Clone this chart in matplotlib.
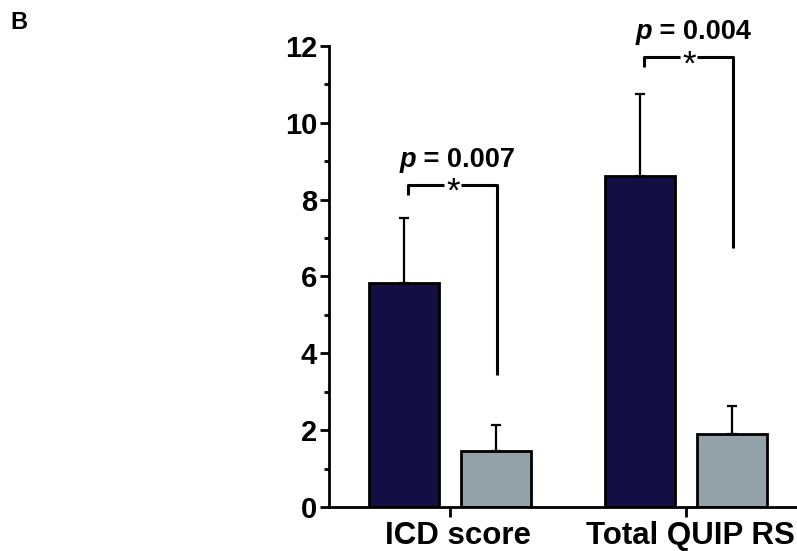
import matplotlib.pyplot as plt
import matplotlib.transforms as mtransforms
from matplotlib.offsetbox import TextArea, HPacker, AnnotationBbox
import numpy as np

plt.rcParams['font.family'] = ['Liberation Sans', 'DejaVu Sans']

categories = ['ICD score', 'Total QUIP RS']
group_a = [5.82, 8.62]      # dark bars
group_a_err = [1.71, 2.14]
group_b = [1.46, 1.90]      # grey bars
group_b_err = [0.68, 0.73]
p_labels = ['0.007', '0.004']
bracket_top = [8.39, 11.72]
bracket_left_end = [8.12, 11.46]
bracket_right_end = [3.44, 6.74]

dark = '#130f45'
grey = '#93a2a8'

fig = plt.figure(figsize=(7.97, 5.51), dpi=100)
ax = fig.add_axes([0.4128, 0.0799, 0.5872, 0.8366])

x = np.arange(len(categories))
w = 0.30
off = 0.195

ax.bar(x - off, group_a, w, color=dark, edgecolor='black', linewidth=2, zorder=2)
ax.bar(x + off, group_b, w, color=grey, edgecolor='black', linewidth=2, zorder=2)
ax.errorbar(x - off, group_a, yerr=[np.zeros(2), group_a_err], fmt='none',
            ecolor='black', elinewidth=1.6, capsize=3.3, capthick=1.6, zorder=3)
ax.errorbar(x + off, group_b, yerr=[np.zeros(2), group_b_err], fmt='none',
            ecolor='black', elinewidth=1.6, capsize=3.3, capthick=1.6, zorder=3)

gap = 0.036
for i in range(len(categories)):
    xl, xr = x[i] - off + 0.015, x[i] + off + 0.005
    mid = (xl + xr) / 2
    yt = bracket_top[i]
    kw = dict(color='black', lw=2.2, solid_capstyle='butt', clip_on=False)
    ax.plot([xl, xl, mid - gap], [bracket_left_end[i], yt, yt], **kw)
    ax.plot([mid + gap, xr, xr], [yt, yt, bracket_right_end[i]], **kw)
    ax.annotate('*', xy=(mid + 0.004, yt), xytext=(0, -12.5), textcoords='offset points',
                ha='center', va='baseline', fontsize=25, annotation_clip=False)
    box = HPacker(children=[
        TextArea('p', textprops=dict(fontsize=19.5, fontweight='bold', fontstyle='italic')),
        TextArea(' = ' + p_labels[i], textprops=dict(fontsize=19.5, fontweight='bold')),
    ], align='baseline', pad=0, sep=0)
    ab = AnnotationBbox(box, (mid + 0.02, yt + 0.3), box_alignment=(0.5, 0),
                        frameon=False, annotation_clip=False, pad=0)
    ax.add_artist(ab)

ax.set_xlim(-0.513, 1.47)
ax.set_ylim(0, 12)
ax.set_yticks(np.arange(0, 13, 2))
ax.set_yticks(np.arange(1, 12, 2), minor=True)
ax.set_xticks(x)
ax.set_xticklabels(categories)

for s in ['top', 'right']:
    ax.spines[s].set_visible(False)
for s in ['left', 'bottom']:
    ax.spines[s].set_linewidth(2)

ax.tick_params(axis='both', which='major', length=6.5, width=2, labelsize=21, pad=2)
ax.tick_params(axis='y', which='minor', length=3.5, width=2)
ax.tick_params(axis='x', which='major', length=7, pad=3, labelsize=22.5)
for lab in ax.get_xticklabels() + ax.get_yticklabels():
    lab.set_fontweight('bold')

# nudge the category labels slightly right, as in the original
for lab, dx in zip(ax.get_xticklabels(), [8, 4]):
    lab.set_transform(lab.get_transform() +
                      mtransforms.ScaledTranslation(dx / 100, 0, fig.dpi_scale_trans))

fig.text(0.013, 0.948, 'B', fontsize=17, fontweight='bold', ha='left', va='baseline')

fig.savefig('out.png', dpi=100)
